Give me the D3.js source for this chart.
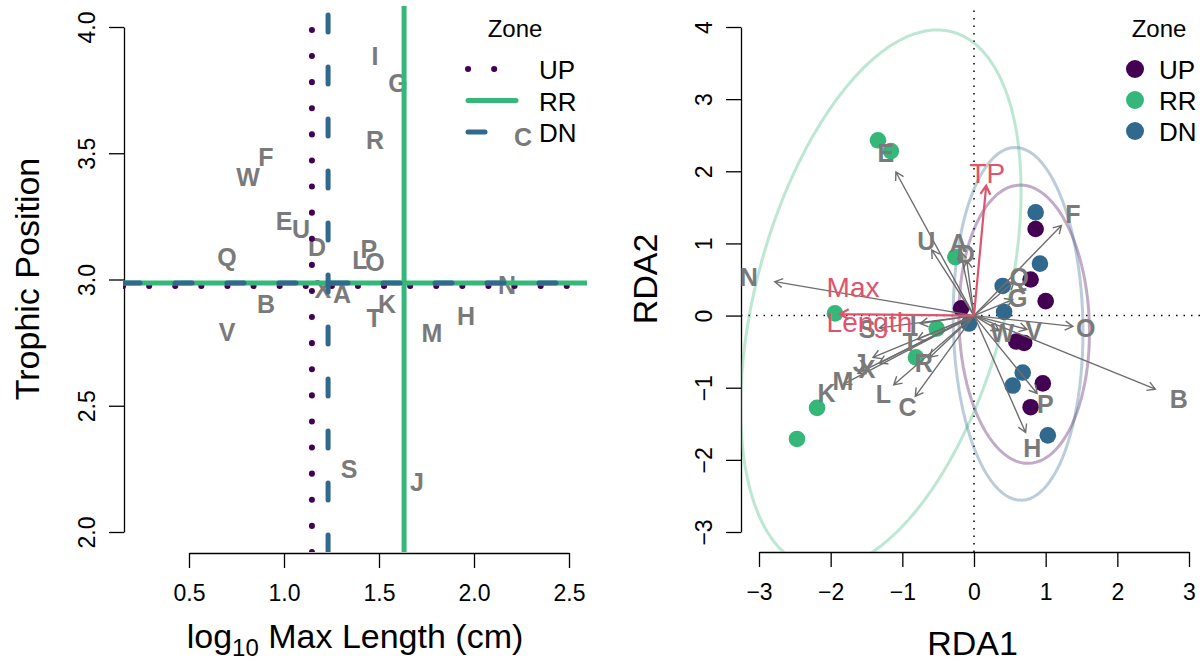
<!DOCTYPE html>
<html>
<head>
<meta charset="utf-8">
<script src="https://cdn.jsdelivr.net/npm/d3@7"></script>
<style>
body { margin: 0; background: #fff; }
text { font-family: "Liberation Sans", Arial, Helvetica, sans-serif; }
</style>
</head>
<body>
<script>
// species codes, same letters in both panels
var species = ['A', 'B', 'C', 'D', 'E', 'F', 'G', 'H', 'I', 'J', 'K', 'L',
               'M', 'N', 'O', 'P', 'Q', 'R', 'S', 'T', 'U', 'V', 'W', 'X'];
var logMaxLength = [1.305, 0.905, 2.258, 1.174, 1.000, 0.905, 1.600, 1.958, 1.479, 1.700, 1.542, 1.400,
                    1.779, 2.174, 1.479, 1.447, 0.700, 1.479, 1.342, 1.474, 1.089, 0.700, 0.811, 1.205];
var trophicPos = [2.943, 2.903, 3.564, 3.129, 3.232, 3.485, 3.778, 2.855, 3.885, 2.198, 2.903, 3.077,
                  2.788, 2.978, 3.069, 3.121, 3.089, 3.552, 2.250, 2.848, 3.200, 2.792, 3.406, 2.962];
// species scores (arrow tips) in the RDA
var speciesRDA1 = [-0.19, 2.53, -0.82, -0.10, -1.09, 1.22, 0.54, 0.72, -0.75, -1.41, -1.82, -1.12,
                   -1.62, -2.78, 1.38, 0.88, 0.56, -0.62, -1.32, -0.79, -0.59, 0.74, 0.35, -1.32];
var speciesRDA2 = [0.89, -1.02, -1.12, 0.76, 1.99, 1.25, 0.22, -1.62, -0.11, -0.58, -0.95, -0.96,
                   -0.80, 0.47, -0.15, -1.08, 0.47, -0.58, -0.17, -0.33, 0.91, -0.19, -0.21, -0.66];

// site scores
var siteZone = ['UP', 'UP', 'UP', 'UP', 'UP', 'UP', 'UP', 'UP',
                'RR', 'RR', 'RR', 'RR', 'RR', 'RR', 'RR', 'RR',
                'DN', 'DN', 'DN', 'DN', 'DN', 'DN', 'DN', 'DN'];
var siteRDA1 = [-0.18, 0.86, 0.79, 1.00, 0.59, 0.70, 0.96, 0.79,
                -1.34, -1.16, -0.26, -1.94, -0.52, -0.81, -2.19, -2.47,
                0.86, 0.92, 0.40, 0.42, -0.07, 0.68, 0.54, 1.03];
var siteRDA2 = [0.10, 1.20, 0.50, 0.20, -0.36, -0.38, -0.94, -1.27,
                2.43, 2.28, 0.81, 0.03, -0.18, -0.58, -1.28, -1.71,
                1.43, 0.72, 0.41, 0.05, -0.11, -0.79, -0.97, -1.66];

var zones = ['UP', 'RR', 'DN'];
var zoneColors = ['#440154', '#35B779', '#31688E'];
var zoneLength = [1.147, 1.632, 1.232];
var zoneTP = [2.974, 2.986, 2.986];

// zone ellipses: centre and spread matrix
var ellCx = [0.70, -1.30, 0.615];
var ellCy = [-0.12, 0.225, -0.115];
var ellSxx = [0.83, 3.83, 0.82];
var ellSxy = [-0.10, 2.94, -0.10];
var ellSyy = [3.72, 13.95, 5.98];

// environmental variables
var envNames = ['TP', 'Max Length'];
var envRDA1 = [0.17, -1.87];
var envRDA2 = [1.80, 0.02];

var xTicksL = [0.5, 1.0, 1.5, 2.0, 2.5];
var yTicksL = [2.0, 2.5, 3.0, 3.5, 4.0];
var xTicksR = [-3, -2, -1, 0, 1, 2, 3];
var yTicksR = [-3, -2, -1, 0, 1, 2, 3, 4];

var W = 1204, H = 665;
var grayText = '#7a7a7a', grayArrow = '#6e6e6e', envColor = '#DF536B';

window.onload = function () {
    var svg = d3.select('body').append('svg')
        .attr('width', W)
        .attr('height', H);
    drawLeft(svg);
    drawRight(svg);
};

function styleAxis(g) {
    g.select('.domain').attr('stroke', '#000').attr('stroke-width', 1.3);
    g.selectAll('.tick line').attr('stroke', '#000').attr('stroke-width', 1.3);
    g.selectAll('.tick text').style('font-size', '23px').attr('fill', '#000')
        .style('font-family', '"Liberation Sans", Arial, sans-serif');
}

function rotateYLabels(g) {
    g.selectAll('.tick text')
        .attr('x', null).attr('dy', null)
        .attr('text-anchor', 'middle')
        .attr('transform', 'translate(-29,0) rotate(-90)');
}

function arrowPath(x0, y0, x1, y1, len) {
    var a = Math.atan2(y1 - y0, x1 - x0);
    var h = Math.PI / 6;
    return 'M' + x0 + ',' + y0 + 'L' + x1 + ',' + y1 +
        'M' + (x1 - len * Math.cos(a - h)) + ',' + (y1 - len * Math.sin(a - h)) +
        'L' + x1 + ',' + y1 +
        'L' + (x1 - len * Math.cos(a + h)) + ',' + (y1 - len * Math.sin(a + h));
}

function lineDash(zone) {
    if (zone === 'UP') return '0.1,26';
    if (zone === 'DN') return '17,35';
    return null;
}

function drawLeft(svg) {
    var box = {left: 123, right: 587, top: 6, bottom: 552};
    var x = d3.scaleLinear().domain([0.5, 2.5]).range([189, 569]);
    var y = d3.scaleLinear().domain([2, 4]).range([532, 27]);

    svg.append('clipPath').attr('id', 'clipL').append('rect')
        .attr('x', box.left).attr('y', box.top)
        .attr('width', box.right - box.left).attr('height', box.bottom - box.top);

    var gx = svg.append('g').attr('transform', 'translate(0,' + (box.bottom + 1) + ')')
        .call(d3.axisBottom(x).tickValues(xTicksL).tickFormat(d3.format('.1f'))
            .tickSize(15).tickSizeOuter(0).tickPadding(17));
    styleAxis(gx);
    var gy = svg.append('g').attr('transform', 'translate(' + (box.left + 1) + ',0)')
        .call(d3.axisLeft(y).tickValues(yTicksL).tickFormat(d3.format('.1f'))
            .tickSize(15).tickSizeOuter(0));
    styleAxis(gy);
    rotateYLabels(gy);

    // axis titles
    var t = svg.append('text')
        .attr('x', (box.left + box.right) / 2).attr('y', 648)
        .attr('text-anchor', 'middle').style('font-size', '34px');
    t.append('tspan').text('log');
    t.append('tspan').text('10').style('font-size', '24px').attr('dy', 8);
    t.append('tspan').text(' Max Length (cm)').attr('dy', -8);

    svg.append('text')
        .attr('transform', 'translate(39,' + (box.top + box.bottom) / 2 + ') rotate(-90)')
        .attr('text-anchor', 'middle').style('font-size', '34px')
        .text('Trophic Position');

    var plot = svg.append('g').attr('clip-path', 'url(#clipL)');

    plot.selectAll('.sp').data(species).enter().append('text')
        .attr('x', function (d, i) { return x(logMaxLength[i]); })
        .attr('y', function (d, i) { return y(trophicPos[i]); })
        .attr('dy', '0.36em')
        .attr('text-anchor', 'middle')
        .style('font-size', '25px').style('font-weight', 'bold')
        .attr('fill', grayText)
        .text(function (d) { return d; });

    zones.forEach(function (z, i) {
        var w = z === 'UP' ? 6 : 5;
        plot.append('line')
            .attr('x1', box.left).attr('x2', box.right)
            .attr('y1', y(zoneTP[i])).attr('y2', y(zoneTP[i]))
            .attr('stroke', zoneColors[i]).attr('stroke-width', w)
            .attr('stroke-linecap', 'round')
            .attr('stroke-dasharray', lineDash(z));
        plot.append('line')
            .attr('x1', x(zoneLength[i])).attr('x2', x(zoneLength[i]))
            .attr('y1', box.bottom).attr('y2', box.top)
            .attr('stroke', zoneColors[i]).attr('stroke-width', w)
            .attr('stroke-linecap', 'round')
            .attr('stroke-dasharray', lineDash(z));
    });

    // legend
    svg.append('text').attr('x', 515).attr('y', 37)
        .attr('text-anchor', 'middle').style('font-size', '24px').text('Zone');
    zones.forEach(function (z, i) {
        var ly = 69 + i * 31.5;
        svg.append('line')
            .attr('x1', 468).attr('x2', 516)
            .attr('y1', ly).attr('y2', ly)
            .attr('stroke', zoneColors[i]).attr('stroke-width', z === 'UP' ? 6 : 5)
            .attr('stroke-linecap', 'round')
            .attr('stroke-dasharray', lineDash(z));
        svg.append('text').attr('x', 539).attr('y', ly + 10)
            .style('font-size', '26px').text(z);
    });
}

function drawRight(svg) {
    var box = {left: 741, right: 1204, top: 6, bottom: 552};
    var x = d3.scaleLinear().domain([-3, 3]).range([759, 1189]);
    var y = d3.scaleLinear().domain([-3, 4]).range([532, 27]);

    svg.append('clipPath').attr('id', 'clipR').append('rect')
        .attr('x', box.left).attr('y', box.top)
        .attr('width', box.right - box.left).attr('height', box.bottom - box.top);

    var gx = svg.append('g').attr('transform', 'translate(0,' + box.bottom + ')')
        .call(d3.axisBottom(x).tickValues(xTicksR).tickFormat(d3.format('d'))
            .tickSize(15).tickSizeOuter(0).tickPadding(17));
    styleAxis(gx);
    var gy = svg.append('g').attr('transform', 'translate(' + box.left + ',0)')
        .call(d3.axisLeft(y).tickValues(yTicksR).tickFormat(d3.format('d'))
            .tickSize(15).tickSizeOuter(0));
    styleAxis(gy);
    rotateYLabels(gy);

    svg.append('text')
        .attr('x', (box.left + box.right) / 2).attr('y', 655)
        .attr('text-anchor', 'middle').style('font-size', '34px').text('RDA1');
    svg.append('text')
        .attr('transform', 'translate(657,' + (box.top + box.bottom) / 2 + ') rotate(-90)')
        .attr('text-anchor', 'middle').style('font-size', '34px').text('RDA2');

    var plot = svg.append('g').attr('clip-path', 'url(#clipR)');

    // zero lines
    plot.append('line')
        .attr('x1', box.left).attr('x2', box.right).attr('y1', y(0)).attr('y2', y(0))
        .attr('stroke', '#000').attr('stroke-width', 1.5).attr('stroke-dasharray', '1.5,6');
    plot.append('line')
        .attr('x1', x(0)).attr('x2', x(0)).attr('y1', box.bottom).attr('y2', box.top)
        .attr('stroke', '#000').attr('stroke-width', 1.5).attr('stroke-dasharray', '1.5,6');

    // zone ellipses
    var steps = d3.range(0, 101).map(function (k) { return k / 100 * 2 * Math.PI; });
    zones.forEach(function (z, i) {
        var l11 = Math.sqrt(ellSxx[i]);
        var l21 = ellSxy[i] / l11;
        var l22 = Math.sqrt(ellSyy[i] - l21 * l21);
        var line = d3.line()
            .x(function (t) { return x(ellCx[i] + l11 * Math.cos(t)); })
            .y(function (t) { return y(ellCy[i] + l21 * Math.cos(t) + l22 * Math.sin(t)); });
        plot.append('path').attr('d', line(steps))
            .attr('fill', 'none').attr('stroke', zoneColors[i])
            .attr('stroke-opacity', 0.33).attr('stroke-width', 3);
    });

    // sites
    plot.selectAll('.site').data(siteZone).enter().append('circle')
        .attr('cx', function (d, i) { return x(siteRDA1[i]); })
        .attr('cy', function (d, i) { return y(siteRDA2[i]); })
        .attr('r', 8.3)
        .attr('fill', function (d) { return zoneColors[zones.indexOf(d)]; });

    // species arrows
    species.forEach(function (s, i) {
        plot.append('path')
            .attr('d', arrowPath(x(0), y(0), x(speciesRDA1[i]), y(speciesRDA2[i]), 9))
            .attr('fill', 'none').attr('stroke', grayArrow).attr('stroke-width', 1.4);
    });

    // environmental arrows
    envNames.forEach(function (e, i) {
        plot.append('path')
            .attr('d', arrowPath(x(0), y(0), x(envRDA1[i]), y(envRDA2[i]), 10))
            .attr('fill', 'none').attr('stroke', envColor).attr('stroke-width', 2.2);
    });

    plot.selectAll('.splab').data(species).enter().append('text')
        .attr('x', function (d, i) { return x(speciesRDA1[i] * 1.13); })
        .attr('y', function (d, i) { return y(speciesRDA2[i] * 1.13); })
        .attr('dy', '0.36em')
        .attr('text-anchor', 'middle')
        .style('font-size', '25px').style('font-weight', 'bold')
        .attr('fill', grayText)
        .text(function (d) { return d; });

    envNames.forEach(function (e, i) {
        var lx = x(envRDA1[i] * 1.1), ly = y(envRDA2[i] * 1.1);
        var words = e.split(' ');
        var txt = plot.append('text')
            .style('font-size', '28px').attr('fill', envColor)
            .attr('text-anchor', words.length > 1 ? 'start' : 'middle');
        if (words.length > 1) {
            txt.append('tspan').attr('x', lx).attr('y', ly - 17).text(words[0]);
            txt.append('tspan').attr('x', lx).attr('y', ly + 18).text(words[1]);
        } else {
            txt.attr('x', lx).attr('y', ly).attr('dy', '0.36em').text(e);
        }
    });

    // legend
    svg.append('text').attr('x', 1159).attr('y', 37)
        .attr('text-anchor', 'middle').style('font-size', '24px').text('Zone');
    zones.forEach(function (z, i) {
        var ly = 69 + i * 31;
        svg.append('circle').attr('cx', 1135).attr('cy', ly).attr('r', 9)
            .attr('fill', zoneColors[i]);
        svg.append('text').attr('x', 1159).attr('y', ly + 10)
            .style('font-size', '26px').text(z);
    });
}
</script>
</body>
</html>
